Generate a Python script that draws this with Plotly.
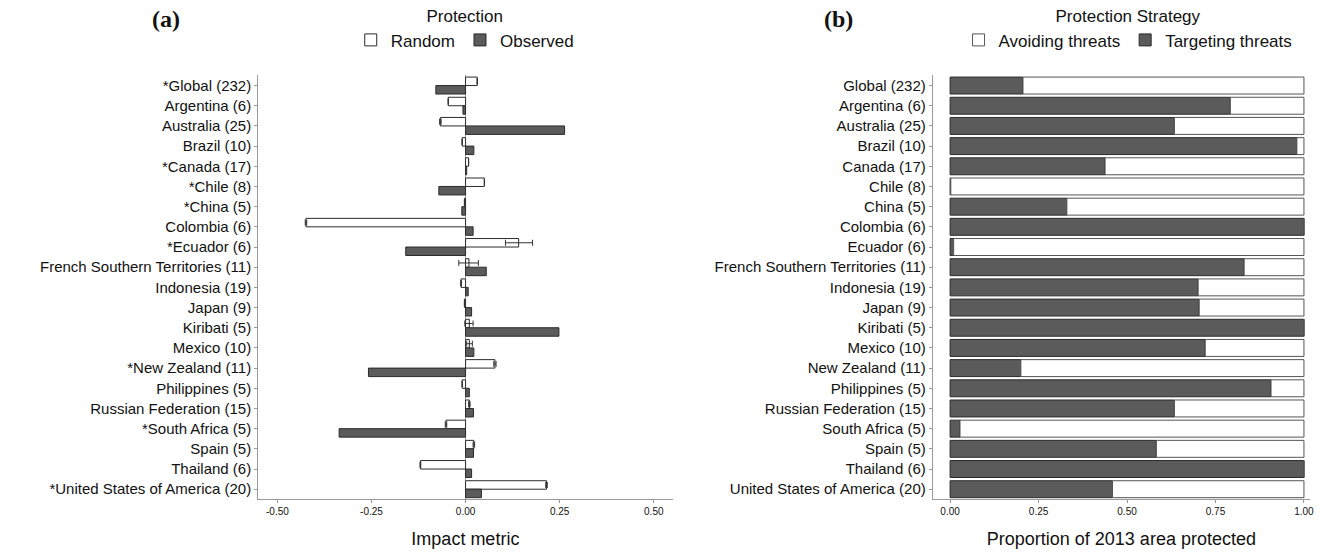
import plotly.graph_objects as go

countries_a = ["*Global (232)", "Argentina (6)", "Australia (25)", "Brazil (10)", "*Canada (17)",
               "*Chile (8)", "*China (5)", "Colombia (6)", "*Ecuador (6)",
               "French Southern Territories (11)", "Indonesia (19)", "Japan (9)", "Kiribati (5)",
               "Mexico (10)", "*New Zealand (11)", "Philippines (5)", "Russian Federation (15)",
               "*South Africa (5)", "Spain (5)", "Thailand (6)", "*United States of America (20)"]
countries_b = ["Global (232)", "Argentina (6)", "Australia (25)", "Brazil (10)", "Canada (17)",
               "Chile (8)", "China (5)", "Colombia (6)", "Ecuador (6)",
               "French Southern Territories (11)", "Indonesia (19)", "Japan (9)", "Kiribati (5)",
               "Mexico (10)", "New Zealand (11)", "Philippines (5)", "Russian Federation (15)",
               "South Africa (5)", "Spain (5)", "Thailand (6)", "United States of America (20)"]

random_vals = [0.031, -0.046, -0.067, -0.009, 0.008, 0.050, -0.003, -0.424, 0.141, 0.009,
               -0.012, -0.003, 0.010, 0.010, 0.078, -0.009, 0.010, -0.052, 0.022, -0.120, 0.215]
random_err_plus = [0.0, 0.0, 0.002, 0.0, 0.0, 0.0, 0.0, 0.002, 0.037, 0.025,
                   0.001, 0.0, 0.010, 0.008, 0.003, 0.0, 0.002, 0.002, 0.002, 0.001, 0.002]
random_err_minus = [0.0, 0.0, 0.002, 0.0, 0.0, 0.0, 0.0, 0.002, 0.035, 0.027,
                    0.001, 0.0, 0.012, 0.007, 0.003, 0.0, 0.002, 0.002, 0.002, 0.001, 0.002]
observed_vals = [-0.079, -0.007, 0.263, 0.022, 0.003, -0.071, -0.010, 0.020, -0.159, 0.055,
                 0.007, 0.016, 0.248, 0.022, -0.258, 0.010, 0.021, -0.336, 0.021, 0.016, 0.042]

targeting = [0.206, 0.792, 0.634, 0.980, 0.438, 0.002, 0.330, 1.0, 0.010, 0.831,
             0.701, 0.704, 1.0, 0.721, 0.200, 0.907, 0.634, 0.028, 0.583, 1.0, 0.459]
avoiding = [round(1 - t, 3) for t in targeting]

ticks_a = [-0.5, -0.25, 0, 0.25, 0.5]
ticklabels_a = ["-0.50", "-0.25", "0.00", "0.25", "0.50"]
ticks_b = [0, 0.25, 0.5, 0.75, 1.0]
ticklabels_b = ["0.00", "0.25", "0.50", "0.75", "1.00"]

DARK = "#5b5b5b"
EDGE = "#2b2b2b"
AXIS = "#9a9a9a"
FONT = "Liberation Sans"

fig = go.Figure()

fig.add_trace(go.Bar(
    y=countries_a, x=random_vals, orientation="h", name="Random",
    marker=dict(color="white", line=dict(color=EDGE, width=1)),
    error_x=dict(type="data", symmetric=False, array=random_err_plus, arrayminus=random_err_minus,
                 color="#333333", thickness=1, width=3),
    xaxis="x", yaxis="y", legend="legend", offsetgroup="r",
))
fig.add_trace(go.Bar(
    y=countries_a, x=observed_vals, orientation="h", name="Observed",
    marker=dict(color=DARK, line=dict(color=EDGE, width=1)),
    xaxis="x", yaxis="y", legend="legend", offsetgroup="o",
))
fig.add_trace(go.Bar(
    y=countries_b, x=targeting, orientation="h", name="Targeting threats",
    marker=dict(color=DARK, line=dict(color=EDGE, width=1)),
    xaxis="x2", yaxis="y2", legend="legend2", offsetgroup="b", legendrank=2,
))
fig.add_trace(go.Bar(
    y=countries_b, x=avoiding, base=targeting, orientation="h", name="Avoiding threats",
    marker=dict(color="white", line=dict(color="#555555", width=1)),
    xaxis="x2", yaxis="y2", legend="legend2", offsetgroup="b", legendrank=1,
))

common_y = dict(
    type="category", autorange="reversed", showline=True, linecolor=AXIS, linewidth=1,
    ticks="outside", ticklen=3, tickcolor=AXIS, showgrid=False, zeroline=False,
    tickfont=dict(family=FONT, size=15, color="#111"), automargin=False,
)
common_x = dict(
    showline=True, linecolor=AXIS, linewidth=1, ticks="outside", ticklen=3, tickcolor=AXIS,
    showgrid=False, tickfont=dict(family=FONT, size=10, color="#111"),
    title_font=dict(family=FONT, size=18, color="#111"), automargin=False, title_standoff=16,
)

fig.update_layout(
    width=1324, height=552,
    margin=dict(l=0, r=0, t=0, b=0),
    paper_bgcolor="white", plot_bgcolor="white",
    barmode="group", bargap=0.16, bargroupgap=0.0,
    font=dict(family=FONT, color="#111"),
    xaxis=dict(domain=[0.195, 0.508], range=[-0.551, 0.55], tickvals=ticks_a,
               ticktext=ticklabels_a, zeroline=True, zerolinecolor=AXIS, zerolinewidth=1,
               title_text="Impact metric", anchor="y", **common_x),
    yaxis=dict(domain=[0.096, 0.868], categoryarray=countries_a, anchor="x", **common_y),
    xaxis2=dict(domain=[0.7045, 0.9894], range=[-0.049, 1.017], tickvals=ticks_b,
                ticktext=ticklabels_b, zeroline=False,
                title_text="Proportion of 2013 area protected", anchor="y2", **common_x),
    yaxis2=dict(domain=[0.096, 0.868], categoryarray=countries_b, anchor="x2", **common_y),
    legend=dict(orientation="h", x=0.351, xanchor="center", y=1.005, yanchor="top",
                title=dict(text="Protection", side="top center",
                           font=dict(family=FONT, size=17, color="#111")),
                font=dict(family=FONT, size=17, color="#111"), bgcolor="rgba(0,0,0,0)"),
    legend2=dict(orientation="h", x=0.852, xanchor="center", y=1.005, yanchor="top",
                 title=dict(text="Protection Strategy", side="top center",
                            font=dict(family=FONT, size=17, color="#111")),
                 font=dict(family=FONT, size=17, color="#111"), bgcolor="rgba(0,0,0,0)",
                 traceorder="normal"),
    annotations=[
        dict(text="<b>(a)</b>", x=0.1255, y=0.97, xref="paper", yref="paper", showarrow=False,
             xanchor="center", yanchor="middle",
             font=dict(family="Liberation Serif", size=24, color="#111")),
        dict(text="<b>(b)</b>", x=0.6335, y=0.97, xref="paper", yref="paper", showarrow=False,
             xanchor="center", yanchor="middle",
             font=dict(family="Liberation Serif", size=24, color="#111")),
    ],
)

fig.write_html("out.html", config={"displayModeBar": False},
               post_script="document.body.style.margin='0';")
